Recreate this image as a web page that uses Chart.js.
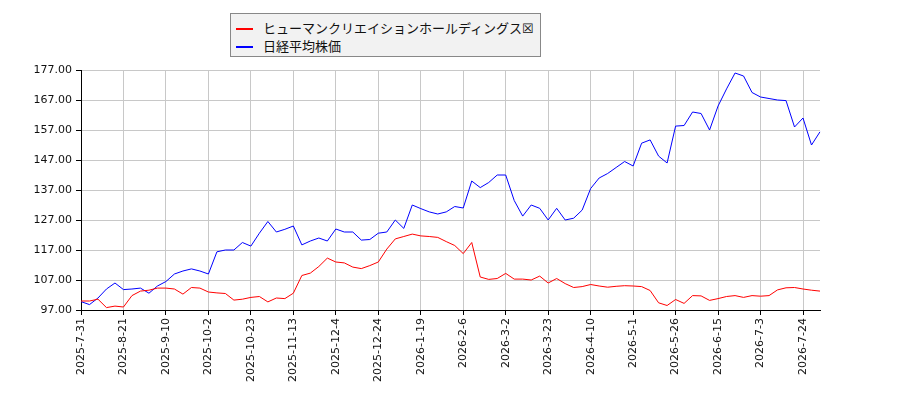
<!DOCTYPE html>
<html>
<head>
<meta charset="utf-8">
<script src="https://cdn.jsdelivr.net/npm/chart.js@4"></script>
<style>
html,body{margin:0;padding:0;background:#fff;}
#wrap{position:relative;width:900px;height:400px;}
#legend{position:absolute;left:230px;top:13px;width:309px;height:42px;background:#f2f2f2;border:1px solid #888;font-family:"Noto Sans CJK JP","Noto Sans",sans-serif;font-size:13px;color:#111;}
.item{position:absolute;left:4px;height:18px;line-height:18px;white-space:nowrap;}
.sw{display:inline-block;width:17px;height:2px;vertical-align:middle;margin-right:10px;margin-left:1px;}
</style>
</head>
<body>
<div id="wrap">
<canvas id="c" width="900" height="400"></canvas>
<div id="legend"></div>
</div>
<script>
const seriesNames = ["ヒューマンクリエイションホールディングス☒", "日経平均株価"];
const seriesColors = ["#ff0000", "#0000ff"];
const tickLabels = ["2025-7-31","2025-8-21","2025-9-10","2025-10-2","2025-10-23","2025-11-13","2025-12-4","2025-12-24","2026-1-19","2026-2-6","2026-3-2","2026-3-23","2026-4-10","2026-5-1","2026-5-26","2026-6-15","2026-7-3","2026-7-24"];
const pointsPerTick = 5;
const companyValues = [100.0,100.0,100.6,97.8,98.3,98.0,101.8,103.3,103.6,104.3,104.3,104.0,102.3,104.5,104.3,103.0,102.7,102.5,100.3,100.6,101.2,101.5,99.7,101.0,100.8,102.6,108.5,109.3,111.5,114.3,113.0,112.7,111.3,110.8,111.8,113.0,117.3,120.7,121.5,122.3,121.7,121.5,121.2,119.8,118.5,115.8,119.5,108.0,107.2,107.5,109.2,107.3,107.3,107.0,108.3,106.0,107.5,105.8,104.5,104.8,105.5,105.0,104.6,104.9,105.1,105.0,104.8,103.5,99.4,98.5,100.5,99.2,101.8,101.7,100.2,100.8,101.5,101.8,101.2,101.8,101.6,101.8,103.7,104.4,104.5,104.0,103.6,103.3];
const nikkeiValues = [99.8,98.8,101.0,104.0,106.0,103.8,104.0,104.3,102.6,105.0,106.5,109.0,110.0,110.7,110.0,109.0,116.4,117.0,117.0,119.5,118.3,122.6,126.5,123.0,123.9,125.0,118.7,120.0,121.0,120.0,124.0,123.0,123.0,120.3,120.5,122.6,123.0,127.0,124.2,132.0,130.8,129.7,129.0,129.7,131.5,131.0,140.0,137.8,139.5,142.0,142.0,133.5,128.3,132.0,130.9,127.0,130.9,127.0,127.6,130.3,137.5,141.0,142.5,144.5,146.5,145.0,152.6,153.7,148.3,146.0,158.3,158.5,163.0,162.5,157.0,165.0,170.7,176.0,175.0,169.5,168.0,167.5,167.0,166.8,158.0,161.0,152.0,156.4];
const yMin = 97, yMax = 177, yStep = 10;

const labels = companyValues.map((_, i) => (i % pointsPerTick === 0 && tickLabels[i / pointsPerTick]) ? tickLabels[i / pointsPerTick] : "");

const lg = document.getElementById('legend');
seriesNames.forEach((n, i) => {
  const d = document.createElement('div');
  d.className = 'item';
  d.style.top = (5 + i * 18) + 'px';
  d.innerHTML = '<span class="sw" style="background:' + seriesColors[i] + '"></span>';
  d.appendChild(document.createTextNode(n));
  lg.appendChild(d);
});

new Chart(document.getElementById('c'), {
  type: 'line',
  data: {
    labels: labels,
    datasets: [
      {label: seriesNames[0], data: companyValues, borderColor: seriesColors[0], borderWidth: 1, pointRadius: 0, tension: 0, fill: false},
      {label: seriesNames[1], data: nikkeiValues, borderColor: seriesColors[1], borderWidth: 1, pointRadius: 0, tension: 0, fill: false}
    ]
  },
  options: {
    responsive: false,
    devicePixelRatio: 1,
    animation: false,
    layout: {padding: {top: 70, right: 80, left: 0, bottom: 0}},
    plugins: {legend: {display: false}, tooltip: {enabled: false}},
    scales: {
      x: {
        type: 'category',
        offset: false,
        afterFit: s => { s.height = 90; },
        border: {color: '#000', width: 1},
        grid: {
          color: c => (c.index % pointsPerTick === 0) ? '#c8c8c8' : 'rgba(0,0,0,0)',
          tickColor: c => (c.index % pointsPerTick === 0) ? '#000' : 'rgba(0,0,0,0)',
          tickLength: 5,
          drawOnChartArea: true
        },
        ticks: {
          autoSkip: false, maxRotation: 90, minRotation: 90, padding: 3,
          color: '#111', font: {family: 'DejaVu Sans', size: 11},
          callback: function(v, i) { return labels[i]; }
        }
      },
      y: {
        min: yMin, max: yMax,
        afterFit: s => { s.width = 81; },
        border: {color: '#000', width: 1},
        grid: {color: '#c8c8c8', tickColor: '#000', tickLength: 5},
        ticks: {
          stepSize: yStep, padding: 4,
          color: '#111', font: {family: 'DejaVu Sans', size: 11},
          callback: v => Number(v).toFixed(2)
        }
      }
    }
  }
});
</script>
</body>
</html>
